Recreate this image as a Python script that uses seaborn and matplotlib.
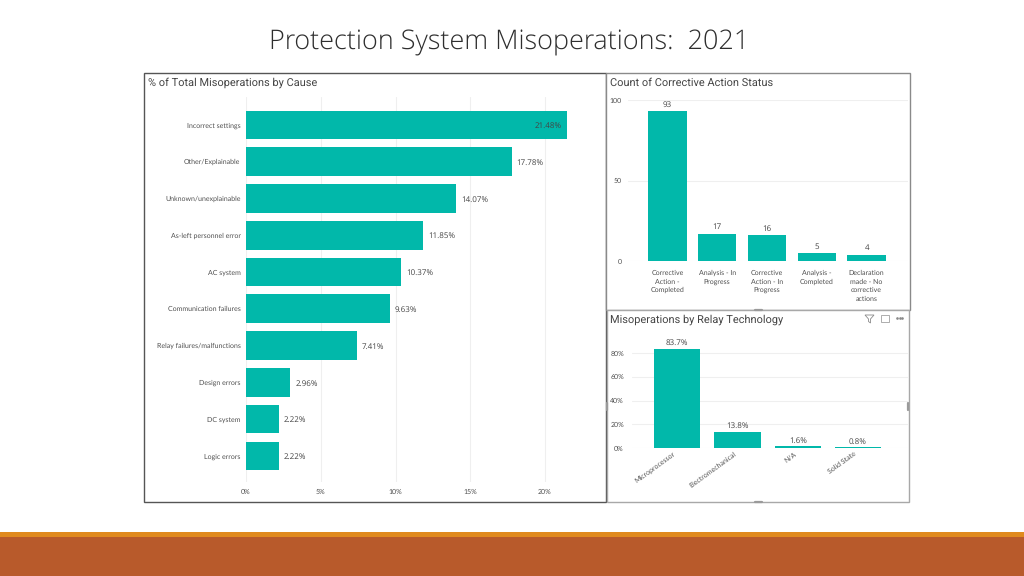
import matplotlib
matplotlib.use("Agg")
import matplotlib.pyplot as plt
import seaborn as sns
from matplotlib.lines import Line2D
from matplotlib.patches import Polygon, Rectangle
from matplotlib.transforms import ScaledTranslation

# === DATA ===
causes = ["Incorrect settings", "Other/Explainable", "Unknown/unexplainable",
          "As-left personnel error", "AC system", "Communication failures",
          "Relay failures/malfunctions", "Design errors", "DC system", "Logic errors"]
cause_pct = [21.48, 17.78, 14.07, 11.85, 10.37, 9.63, 7.41, 2.96, 2.22, 2.22]
cause_ticks = [0, 5, 10, 15, 20]

status = ["Corrective\nAction -\nCompleted", "Analysis - In\nProgress",
          "Corrective\nAction - In\nProgress", "Analysis -\nCompleted",
          "Declaration\nmade - No\ncorrective\nactions"]
status_count = [93, 17, 16, 5, 4]
status_ticks = [0, 50, 100]

relay = ["Microprocessor", "Electromechanical", "N/A", "Solid State"]
relay_pct = [83.7, 13.8, 1.6, 0.8]
relay_ticks = [0, 20, 40, 60, 80]

TEAL = "#01B8AA"
TXT = "#505050"
GRID = "#efefef"
W, H = 1024, 576

sns.set_theme(style="white")
plt.rcParams["font.family"] = ["Open Sans", "DejaVu Sans"]
plt.rcParams["text.hinting"] = "none"
plt.rcParams["text.hinting_factor"] = 1

fig = plt.figure(figsize=(W / 100, H / 100), dpi=100, facecolor="white")


def px_axes(x0, y0, x1, y1):
    # pixel box, y measured from the top of the picture
    return fig.add_axes([x0 / W, 1 - y1 / H, (x1 - x0) / W, (y1 - y0) / H], facecolor="none", zorder=3)


def px_rect(x0, y0, x1, y1, **kw):
    fig.add_artist(Rectangle((x0 / W, 1 - y1 / H), (x1 - x0) / W, (y1 - y0) / H,
                             transform=fig.transFigure, **kw))


def px_line(xs, ys, **kw):
    fig.add_artist(Line2D([x / W for x in xs], [1 - y / H for y in ys],
                          transform=fig.transFigure, **kw))


def clean(ax):
    sns.despine(ax=ax, left=True, bottom=True, top=True, right=True)
    ax.set_xlabel("")
    ax.set_ylabel("")
    ax.set_axisbelow(True)
    ax.tick_params(length=0, labelsize=5.4, labelcolor=TXT, labelfontfamily="Lato")


# slide decoration
px_rect(0, 532, W, 537, facecolor="#E08A1E", edgecolor="none")
px_rect(0, 537, W, H, facecolor="#B85A2B", edgecolor="none")
fig.text(509.5 / W, 1 - 42 / H, "Protection System Misoperations:  2021", ha="center",
         va="center", fontsize=19.1, color="#2e2e2e", fontweight="light")

# panels
px_rect(144, 73, 606, 502, facecolor="white", edgecolor="#555555", lw=1)
px_rect(606, 73, 910, 310, facecolor="white", edgecolor="#8a8a8a", lw=1)
px_rect(607, 310, 909, 502, facecolor="white", edgecolor="#a8a8a8", lw=1)

fig.text(148 / W, 1 - 82.5 / H, "% of Total Misoperations by Cause", fontsize=7.6, color="#444444", va="center", family="Roboto")
fig.text(610 / W, 1 - 82.5 / H, "Count of Corrective Action Status", fontsize=7.6, color="#444444", va="center", family="Roboto")
fig.text(610 / W, 1 - 319.5 / H, "Misoperations by Relay Technology", fontsize=7.6, color="#444444", va="center", family="Roboto")

# === 1. CAUSE ===
ax1 = px_axes(246, 97, 570, 482)
sns.barplot(x=cause_pct, y=causes, color=TEAL, saturation=1, width=0.78, linewidth=0, ax=ax1)
ax1.set_xlim(0, 21.67)
ax1.set_ylim(9.71, -0.76)
ax1.set_xticks(cause_ticks)
ax1.set_xticklabels([f"{t}%" for t in cause_ticks])
ax1.xaxis.grid(True, color=GRID, lw=0.8)
clean(ax1)
ax1.tick_params(axis="y", pad=4)
ax1.tick_params(axis="x", pad=4.7)
labels1 = ax1.bar_label(ax1.containers[0], labels=[f"{v:.2f}%" for v in cause_pct],
                        padding=3.5, fontsize=5.8, color="#444444")
for lab in labels1:
    lab.xyann = (3.5, -0.7)
labels1[0].set_ha("right")
labels1[0].xyann = (-4, -0.7)

# === 2. STATUS ===
ax2 = px_axes(628, 100, 908, 261)
sns.barplot(x=status, y=status_count, color=TEAL, saturation=1, width=0.775, linewidth=0, ax=ax2)
ax2.set_xlim(-0.79, 4.83)
ax2.set_ylim(0, 100)
ax2.set_yticks(status_ticks)
ax2.yaxis.grid(True, color=GRID, lw=0.8)
clean(ax2)
ax2.tick_params(axis="y", pad=4.3)
ax2.tick_params(axis="x", pad=6.5)
plt.setp(ax2.get_xticklabels(), linespacing=1.4)
ax2.bar_label(ax2.containers[0], padding=1.8, fontsize=5.8, color="#444444")

# === 3. RELAY ===
ax3 = px_axes(632, 340, 908, 448)
sns.barplot(x=relay, y=relay_pct, color=TEAL, saturation=1, width=0.765, linewidth=0, ax=ax3)
ax3.set_xlim(-0.75, 3.83)
ax3.set_ylim(0, 91)
ax3.set_yticks(relay_ticks)
ax3.set_yticklabels([f"{t}%" for t in relay_ticks])
ax3.yaxis.grid(True, color=GRID, lw=0.8)
clean(ax3)
ax3.tick_params(axis="y", pad=5.8)
ax3.tick_params(axis="x", pad=2)
shift = ScaledTranslation(-3 / 72, 0, fig.dpi_scale_trans)
for lab in ax3.get_xticklabels():
    lab.set(rotation=36, ha="right", rotation_mode="anchor")
    lab.set_transform(lab.get_transform() + shift)
ax3.bar_label(ax3.containers[0], labels=[f"{v}%" for v in relay_pct],
              padding=1, fontsize=5.8, color="#444444")

# header icons of the relay panel
fig.add_artist(Polygon([(865 / W, 1 - 315 / H), (874 / W, 1 - 315 / H), (870.5 / W, 1 - 319 / H),
                        (870.5 / W, 1 - 323 / H), (868.5 / W, 1 - 321.5 / H), (868.5 / W, 1 - 319 / H)],
                       closed=True, transform=fig.transFigure, facecolor="none", edgecolor="#8a8a8a", lw=0.6))
px_rect(881, 315, 889, 322, facecolor="none", edgecolor="#a0a0a0", lw=0.6)
px_line([897, 899.5, 902], [318, 318, 318], color="#8a8a8a", lw=0, marker="o", ms=0.9)

# small resize handles on the panel edges
for xs, ys in [([755, 762], [310, 310]), ([755, 762], [502, 502]),
               ([607, 607], [403, 410]), ([908, 908], [403, 410])]:
    px_line(xs, ys, color="#9a9a9a", lw=1.6)

plt.savefig("out.png", dpi=100)
